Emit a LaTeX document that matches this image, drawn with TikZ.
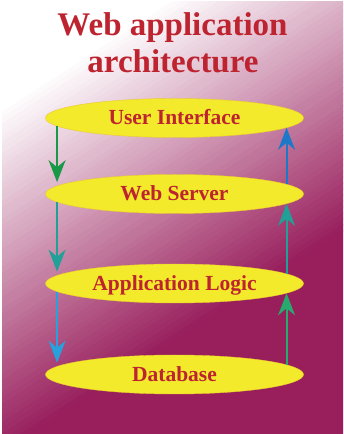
\documentclass[tikz,border=0pt]{standalone}
\usepackage{fontspec}
\setmainfont{Liberation Serif}
\usetikzlibrary{shapes.geometric,arrows.meta}
\definecolor{bgp}{RGB}{152,30,92}
\definecolor{ellY}{RGB}{242,234,42}
\definecolor{ellB}{RGB}{235,200,50}
\definecolor{txtR}{RGB}{190,36,48}
\definecolor{gA}{RGB}{25,153,72}
\definecolor{tealA}{RGB}{32,160,150}
\definecolor{blueL}{RGB}{40,160,220}
\definecolor{greenR}{RGB}{40,170,110}
\definecolor{blueR}{RGB}{30,120,200}
\tikzset{
  layer/.style={ellipse, fill=ellY, draw=ellB, line width=0.4pt,
    minimum width=258pt, minimum height=39pt, inner sep=0pt, text=txtR,
    font=\fontsize{21.5}{25}\selectfont\bfseries, text height=14pt, text depth=0pt},
  titletext/.style={text=txtR, font=\fontsize{33}{38}\selectfont\bfseries, anchor=base, inner sep=0pt},
  arr/.style={line width=2pt, -{Stealth[length=22pt, width=17pt, inset=7pt]}},
  leftarr/.style={arr, shorten >=2pt},
}
\begin{document}
\begin{tikzpicture}[x=1pt,y=1pt]
\useasboundingbox (0,0) rectangle (343,434);
\fill[white] (0,0) rectangle (343,434);
\begin{scope}
  \clip (2,0) rectangle (343,432);
  \begin{scope}[shift={(0,434)}, rotate=-57]
    \foreach \i in {0,...,57} {
      \pgfmathsetmacro\ta{90+5*\i}
      \pgfmathsetmacro\tb{\ta+5.8}
      \pgfmathtruncatemacro\p{(\i+0.5)/58*100}
      \fill[bgp!\p!white] (\ta,-700) rectangle (\tb,700);
    }
    \fill[bgp] (380,-700) rectangle (900,700);
  \end{scope}
\end{scope}
% title
\node[titletext] (t1) at (172.5,398) {Web application};
\node[titletext] (t2) at (173,361) {architecture};
% layers
\node[layer] (UI) at (174.5,316) {User Interface};
\node[layer] (WS) at (174.5,240) {Web Server};
\node[layer] (AL) at (174.5,150.5) {Application Logic};
\node[layer] (DB) at (174.5,59.5) {Database};
% left arrows (down)
\draw[leftarr, gA] (UI.184.8) -- (UI.184.8 |- WS.175.2);
\draw[leftarr, tealA] (WS.184.8) -- (WS.184.8 |- AL.175.2);
\draw[leftarr, blueL] (AL.184.8) -- (AL.184.8 |- DB.175.2);
% right arrows (up)
\draw[arr, greenR] (DB.5.2) -- (DB.5.2 |- AL.-5.2);
\draw[arr, tealA] (AL.5.2) -- (AL.5.2 |- WS.-5.2);
\draw[arr, blueR] (WS.5.2) -- (WS.5.2 |- UI.-5.2);
\end{tikzpicture}
\end{document}
